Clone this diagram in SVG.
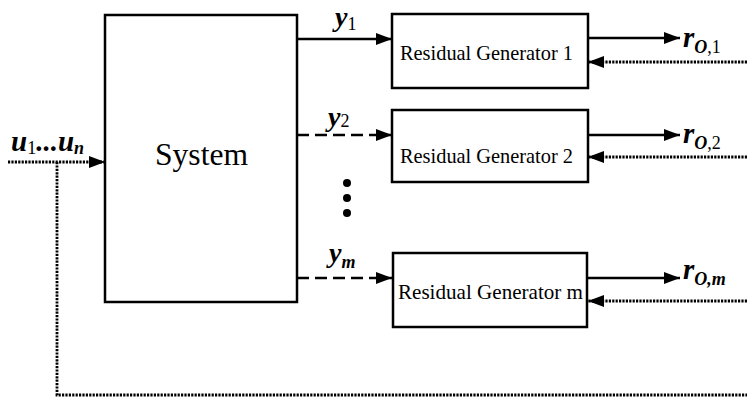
<svg xmlns="http://www.w3.org/2000/svg" width="747" height="402" viewBox="0 0 747 402">
<style>
.box{fill:#fff;stroke:#000;stroke-width:2.5}
.solid{fill:none;stroke:#000;stroke-width:2.5}
.dash{fill:none;stroke:#000;stroke-width:2.5;stroke-dasharray:12 6}
.dot{fill:none;stroke:#000;stroke-width:2.8;stroke-dasharray:2.2 1.2}
.lbl{font-family:"Liberation Serif","Times New Roman",serif;fill:#000}
.math{font-family:"Liberation Serif","Times New Roman",serif;font-style:italic;font-weight:bold;fill:#000}
.sub{font-family:"Liberation Serif","Times New Roman",serif;fill:#000}
</style>
<defs>
<marker id="arr" viewBox="0 0 16 12" refX="16" refY="6" markerWidth="16" markerHeight="12" markerUnits="userSpaceOnUse" orient="auto">
<path d="M0,0 L16,6 L0,12 z" fill="#000"/>
</marker>
</defs>
<g id="connectors">
<path class="dot" d="M8,162 H105" marker-end="url(#arr)"/>
<path class="dot" d="M57,162 V395 H747"/>
<path class="solid" d="M297,39 H392" marker-end="url(#arr)"/>
<path class="dash" d="M297,135 H392" marker-end="url(#arr)"/>
<path class="dash" d="M297,278 H392" marker-end="url(#arr)"/>
<path class="solid" d="M588,38 H680" marker-end="url(#arr)"/>
<path class="solid" d="M588,135 H680" marker-end="url(#arr)"/>
<path class="solid" d="M588,278 H680" marker-end="url(#arr)"/>
<path class="dot" d="M747,62 H588" marker-end="url(#arr)"/>
<path class="dot" d="M747,157 H588" marker-end="url(#arr)"/>
<path class="dot" d="M747,301 H588" marker-end="url(#arr)"/>
<circle cx="347" cy="183" r="4" fill="#000"/>
<circle cx="347" cy="198" r="4" fill="#000"/>
<circle cx="347" cy="213" r="4" fill="#000"/>
</g>
<g id="system">
<rect class="box" x="105" y="15" width="192" height="287"/>
<text class="lbl" x="155" y="165" font-size="32" textLength="93" lengthAdjust="spacingAndGlyphs">System</text>
</g>
<g id="gen1">
<rect class="box" x="392" y="14" width="196" height="74"/>
<text class="lbl" x="400" y="60" font-size="22" textLength="173" lengthAdjust="spacingAndGlyphs">Residual Generator 1</text>
</g>
<g id="gen2">
<rect class="box" x="392" y="110" width="196" height="72"/>
<text class="lbl" x="400" y="163" font-size="22" textLength="173" lengthAdjust="spacingAndGlyphs">Residual Generator 2</text>
</g>
<g id="genm">
<rect class="box" x="393" y="253" width="194" height="74"/>
<text class="lbl" x="398" y="299" font-size="22" textLength="185" lengthAdjust="spacingAndGlyphs">Residual Generator m</text>
</g>
<g id="labels">
<text x="11" y="151"><tspan class="math" font-size="29">u</tspan><tspan class="sub" font-size="18" dy="3">1</tspan><tspan class="math" font-size="29" dy="-3">...u</tspan><tspan class="math" font-size="18" dy="3">n</tspan></text>
<text x="335" y="26"><tspan class="math" font-size="28">y</tspan><tspan class="sub" font-size="18" dy="4">1</tspan></text>
<text x="328" y="126"><tspan class="math" font-size="28">y</tspan><tspan class="sub" font-size="18" dy="1">2</tspan></text>
<text x="329" y="262"><tspan class="math" font-size="28">y</tspan><tspan class="math" font-size="18" dy="6">m</tspan></text>
<text x="683" y="47"><tspan class="math" font-size="29">r</tspan><tspan class="math" font-size="18" dy="6">O</tspan><tspan class="sub" font-size="18">,1</tspan></text>
<text x="683" y="143"><tspan class="math" font-size="29">r</tspan><tspan class="math" font-size="18" dy="6">O</tspan><tspan class="sub" font-size="18">,2</tspan></text>
<text x="683" y="279"><tspan class="math" font-size="29">r</tspan><tspan class="math" font-size="18" dy="6">O</tspan><tspan class="math" font-size="18">,m</tspan></text>
</g>
</svg>
